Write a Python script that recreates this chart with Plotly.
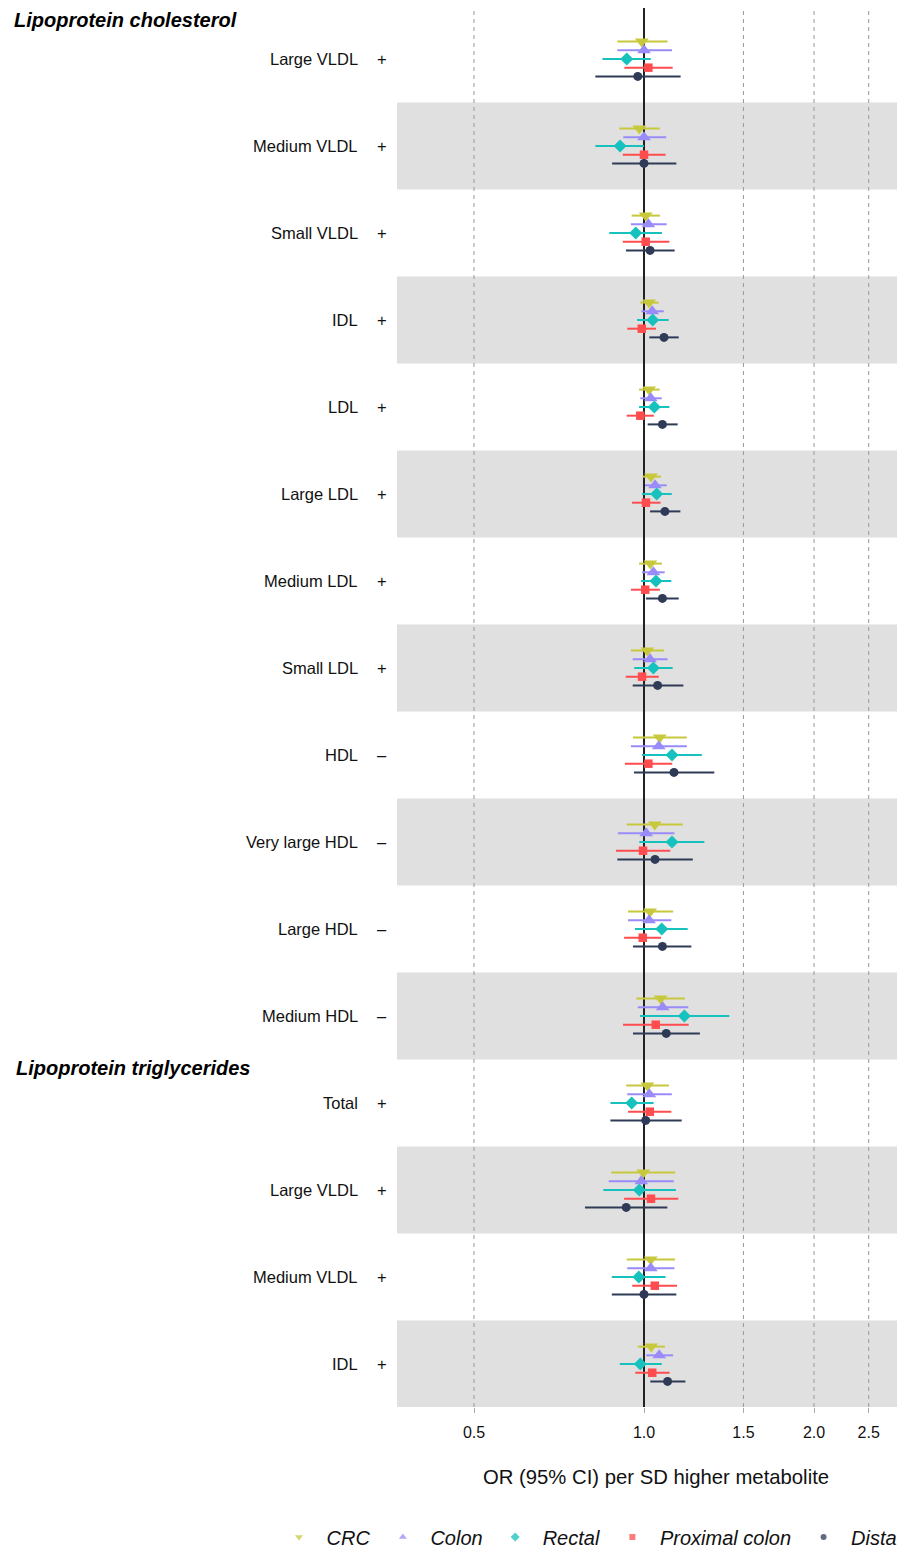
import plotly.graph_objects as go

# ---------------- data ----------------
labels = ["Large VLDL", "Medium VLDL", "Small VLDL", "IDL", "LDL", "Large LDL",
          "Medium LDL", "Small LDL", "HDL", "Very large HDL", "Large HDL", "Medium HDL",
          "Total", "Large VLDL", "Medium VLDL", "IDL"]
signs = ["+", "+", "+", "+", "+", "+", "+", "+", "–", "–", "–", "–", "+", "+", "+", "+"]
sections = ["Lipoprotein cholesterol", "Lipoprotein triglycerides"]
section_start = [0, 12]

series_names = ["CRC", "Colon", "Rectal", "Proximal colon", "Distal"]

crc_est = [0.991, 0.981, 1.007, 1.021, 1.021, 1.029, 1.026, 1.014, 1.066, 1.045, 1.025, 1.070, 1.014, 0.997, 1.028, 1.030]
crc_lo = [0.897, 0.904, 0.951, 0.985, 0.980, 0.995, 0.980, 0.948, 0.956, 0.932, 0.937, 0.969, 0.930, 0.875, 0.932, 0.975]
crc_hi = [1.101, 1.067, 1.067, 1.062, 1.066, 1.072, 1.076, 1.085, 1.191, 1.171, 1.126, 1.182, 1.107, 1.136, 1.135, 1.089]

colon_est = [1.000, 1.000, 1.018, 1.034, 1.028, 1.046, 1.039, 1.025, 1.062, 1.009, 1.021, 1.079, 1.022, 0.989, 1.028, 1.064]
colon_lo = [0.897, 0.919, 0.948, 0.989, 0.985, 1.004, 0.992, 0.955, 0.948, 0.899, 0.937, 0.975, 0.934, 0.866, 0.934, 1.009]
colon_hi = [1.121, 1.095, 1.097, 1.084, 1.075, 1.097, 1.088, 1.101, 1.191, 1.132, 1.118, 1.198, 1.120, 1.129, 1.132, 1.126]

rectal_est = [0.932, 0.907, 0.967, 1.036, 1.043, 1.053, 1.050, 1.039, 1.121, 1.121, 1.075, 1.179, 0.951, 0.981, 0.979, 0.985]
rectal_lo = [0.844, 0.820, 0.868, 0.972, 0.980, 0.992, 0.988, 0.961, 0.992, 0.981, 0.964, 0.984, 0.872, 0.847, 0.877, 0.906]
rectal_hi = [1.028, 1.000, 1.076, 1.106, 1.109, 1.120, 1.118, 1.124, 1.266, 1.279, 1.195, 1.416, 1.040, 1.139, 1.092, 1.075]

prox_est = [1.018, 1.000, 1.007, 0.991, 0.985, 1.008, 1.005, 0.992, 1.018, 0.996, 0.995, 1.049, 1.024, 1.029, 1.045, 1.034]
prox_lo = [0.923, 0.917, 0.917, 0.934, 0.932, 0.952, 0.948, 0.928, 0.925, 0.892, 0.922, 0.918, 0.937, 0.922, 0.953, 0.965]
prox_hi = [1.124, 1.092, 1.109, 1.050, 1.041, 1.070, 1.067, 1.062, 1.122, 1.113, 1.072, 1.200, 1.118, 1.150, 1.144, 1.110]

distal_est = [0.975, 1.000, 1.025, 1.085, 1.078, 1.089, 1.078, 1.057, 1.130, 1.046, 1.078, 1.095, 1.007, 0.930, 1.000, 1.101]
distal_lo = [0.820, 0.878, 0.929, 1.022, 1.015, 1.025, 1.008, 0.955, 0.960, 0.897, 0.956, 0.956, 0.872, 0.786, 0.877, 1.026]
distal_hi = [1.161, 1.141, 1.133, 1.152, 1.147, 1.160, 1.152, 1.174, 1.332, 1.220, 1.213, 1.256, 1.166, 1.100, 1.141, 1.184]

tick_vals = [0.5, 1.0, 1.5, 2.0, 2.5]
tick_text = ["0.5", "1.0", "1.5", "2.0", "2.5"]
reference_value = 1.0
x_title = "OR (95% CI) per SD higher metabolite"

# ---------------- style ----------------
FONT = "Liberation Sans, Arial, sans-serif"
colors = ["#C8C83C", "#9A8CF8", "#17C2BE", "#FF4D4F", "#2E3A56"]
symbols = ["triangle-down", "triangle-up", "diamond", "square", "circle"]
sizes = [12, 12, 10, 8.5, 9]
legend_sizes = [7, 7, 7, 6, 6]
offsets = [-0.2, -0.1, 0.0, 0.1, 0.2]

est_all = [crc_est, colon_est, rectal_est, prox_est, distal_est]
lo_all = [crc_lo, colon_lo, rectal_lo, prox_lo, distal_lo]
hi_all = [crc_hi, colon_hi, rectal_hi, prox_hi, distal_hi]

n = len(labels)
fig = go.Figure()

for k, name in enumerate(series_names):
    est = est_all[k]
    ys = [i + offsets[k] for i in range(n)]
    fig.add_trace(go.Scatter(
        x=est, y=ys, mode="markers", name=name, showlegend=False,
        marker=dict(symbol=symbols[k], size=sizes[k], color=colors[k]),
        error_x=dict(type="data", symmetric=False,
                     array=[h - e for h, e in zip(hi_all[k], est)],
                     arrayminus=[e - l for e, l in zip(est, lo_all[k])],
                     color=colors[k], thickness=2, width=0),
    ))

# legend-only entries (small faded keys as in the reference)
for k, name in enumerate(series_names):
    fig.add_trace(go.Scatter(
        x=[None], y=[None], mode="markers", name="<i>" + name + "</i>",
        marker=dict(symbol=symbols[k], size=legend_sizes[k], color=colors[k], opacity=0.75),
        showlegend=True, hoverinfo="skip"))

shapes = []
for i in range(n):
    if i % 2 == 1:
        shapes.append(dict(type="rect", xref="paper", yref="y", x0=0, x1=1,
                           y0=i - 0.5, y1=i + 0.5, fillcolor="#E0E0E0",
                           line=dict(width=0), layer="below"))
# grid lines (dashed) and reference line (solid)
for tv in tick_vals:
    if tv == reference_value:
        continue
    shapes.append(dict(type="line", xref="x", yref="paper", x0=tv, x1=tv, y0=0, y1=1,
                       line=dict(color="#999999", width=1, dash="4px,4px"), layer="below"))
shapes.append(dict(type="line", xref="x", yref="paper", x0=reference_value, x1=reference_value,
                   y0=0, y1=1, line=dict(color="#222222", width=2), layer="below"))

annotations = []
for i in range(n):
    annotations.append(dict(x=0, xref="paper", y=i, yref="y", text=labels[i],
                            showarrow=False, xanchor="right", xshift=-37,
                            font=dict(family=FONT, size=16.5, color="#111111")))
    annotations.append(dict(x=0, xref="paper", y=i, yref="y", text=signs[i],
                            showarrow=False, xanchor="center", xshift=-15,
                            font=dict(family=FONT, size=16.5, color="#111111")))
for s, st, xs, yo in zip(sections, section_start, [-385, -383], [-0.45, -0.40]):
    annotations.append(dict(x=0, xref="paper", xshift=xs, y=st + yo, yref="y",
                            text="<b><i>" + s + "</i></b>", showarrow=False,
                            xanchor="left", yanchor="middle",
                            font=dict(family=FONT, size=20, color="#000000")))
annotations.append(dict(x=0.5, xref="paper", xshift=7, y=-0.05, yref="paper",
                        text=x_title, showarrow=False, xanchor="center", yanchor="middle",
                        font=dict(family=FONT, size=20.3, color="#111111")))

# page has an 8px body margin: figure sized so the page is exactly 905x1557
fig.update_layout(
    width=897, height=1541,
    margin=dict(l=389, r=4, t=0, b=142, autoexpand=False),
    paper_bgcolor="white", plot_bgcolor="white",
    font=dict(family=FONT, color="#1a1a1a"),
    shapes=shapes, annotations=annotations,
    showlegend=True,
    legend=dict(orientation="h", xref="paper", yref="paper",
                x=-0.249, xanchor="left", y=-0.0929, yanchor="middle",
                font=dict(family=FONT, size=20, color="#111111"),
                itemsizing="trace", itemwidth=45, tracegroupgap=0,
                bgcolor="rgba(0,0,0,0)"),
    xaxis=dict(type="log", range=[-0.4374, 0.4551],
               tickvals=tick_vals, ticktext=tick_text,
               tickfont=dict(family=FONT, size=16, color="#111111"),
               ticks="outside", ticklen=5, tickcolor="#aaaaaa",
               ticklabelstandoff=6,
               showgrid=False, zeroline=False, showline=False),
    yaxis=dict(range=[15.494, -0.586], showticklabels=False, showgrid=False,
               zeroline=False, showline=False, ticks=""),
)

fig.write_html("out.html")
